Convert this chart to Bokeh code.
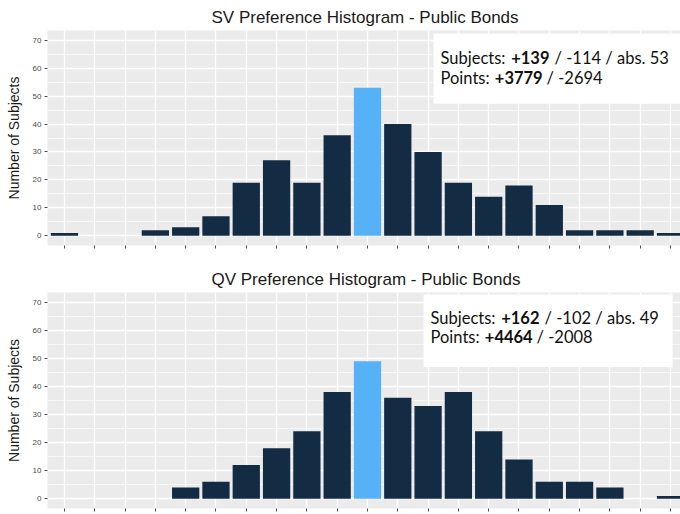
from bokeh.plotting import figure
from bokeh.models import Range1d, FixedTicker, Label, BoxAnnotation
from bokeh.layouts import column
from bokeh.embed import file_html
from bokeh.resources import INLINE

# ---- data ----
bins = list(range(-10, 11))
sv_counts = [1, 0, 0, 2, 3, 7, 19, 27, 19, 36, 53, 40, 30, 19, 14, 18, 11, 2, 2, 2, 1]
qv_counts = [0, 0, 0, 0, 4, 6, 12, 18, 24, 38, 49, 36, 33, 38, 24, 14, 6, 6, 4, 0, 1]
y_ticks = [0, 10, 20, 30, 40, 50, 60, 70]
y_minor = [5, 15, 25, 35, 45, 55, 65]

sv_title = "SV Preference Histogram - Public Bonds"
qv_title = "QV Preference Histogram - Public Bonds"
sv_summary = [["Subjects: ", "+139", "/ -114 / abs. 53"], ["Points: ", "+3779", "/ -2694"]]
qv_summary = [["Subjects: ", "+162", "/ -102 / abs. 49"], ["Points: ", "+4464", "/ -2008"]]

DARK = "#132B43"
LIGHT = "#56B1F7"


def make_panel(title, counts, summary, height, top_border, bottom_border, box, text_pos):
    p = figure(width=680, height=height, output_backend="svg", toolbar_location=None,
               x_range=Range1d(-10.56, 10.33), y_range=Range1d(-3.5, 73.5),
               min_border_left=47, min_border_right=0, min_border_top=top_border,
               min_border_bottom=bottom_border)
    p.background_fill_color = "#EBEBEB"
    p.border_fill_color = "white"
    p.outline_line_color = None

    p.title.text = title
    p.title.text_font = "Liberation Sans"
    p.title.text_font_size = "17px"
    p.title.text_font_style = "normal"
    p.title.text_color = "#1A1A1A"
    p.title.align = "left"
    p.title.offset = 164
    p.title.standoff = 7

    colors = [LIGHT if b == 0 else DARK for b in bins]
    p.vbar(x=bins, top=counts, width=0.9, fill_color=colors, line_color=None)

    # y axis
    p.yaxis.ticker = FixedTicker(ticks=y_ticks, minor_ticks=y_minor)
    p.yaxis.axis_label = "Number of Subjects"
    p.yaxis.axis_label_text_font = "Liberation Sans"
    p.yaxis.axis_label_text_font_size = "14px"
    p.yaxis.axis_label_text_font_style = "normal"
    p.yaxis.axis_label_text_color = "#1A1A1A"
    p.yaxis.axis_label_standoff = 8
    p.yaxis.major_label_text_font = "Liberation Sans"
    p.yaxis.major_label_text_font_size = "8px"
    p.yaxis.major_label_text_color = "#4D4D4D"
    p.yaxis.major_label_standoff = 2

    # x axis
    p.xaxis.ticker = FixedTicker(ticks=bins)
    p.xaxis.major_label_overrides = {b: "" for b in bins}
    p.xaxis.major_label_text_font_size = "1px"
    p.xaxis.major_label_standoff = 0

    for ax in (p.xaxis, p.yaxis):
        ax.axis_line_color = None
        ax.major_tick_line_color = "#4D4D4D"
        ax.major_tick_out = 3
        ax.major_tick_in = 0
        ax.minor_tick_line_color = None

    p.xgrid.ticker = FixedTicker(ticks=bins)
    p.xgrid.grid_line_color = "white"
    p.xgrid.grid_line_width = 1.3
    p.ygrid.grid_line_color = "white"
    p.ygrid.grid_line_width = 1.3
    p.ygrid.minor_grid_line_color = "white"
    p.ygrid.minor_grid_line_width = 0.6

    left, right, top, bottom = box
    p.add_layout(BoxAnnotation(left=left, right=right, top=top, bottom=bottom,
                               fill_color="white", fill_alpha=1.0, line_color=None))

    tx, ty1, ty2 = text_pos
    offsets = [[0, 70.7, 114], [0, 54.3, 106]]
    for line, yy, offs in zip(summary, (ty1, ty2), offsets):
        for i, (seg, off) in enumerate(zip(line, offs)):
            p.add_layout(Label(x=tx, y=yy, x_offset=off, text=seg,
                               text_font="Lato", text_font_size="16.5px",
                               text_font_style="bold" if i == 1 else "normal",
                               text_color="#111111", text_baseline="alphabetic"))
    return p


p1 = make_panel(sv_title, sv_counts, sv_summary, 258, 30, 13,
                (2.18, 10.33, 72.4, 47.3), (2.41, 63.8, 56.65))
p2 = make_panel(qv_title, qv_counts, qv_summary, 256, 34, 6,
                (1.85, 10.07, 72.8, 46.9), (2.08, 64.5, 57.8))

layout = column(p1, p2, spacing=0)
open("out.html", "w").write(file_html(layout, INLINE))
